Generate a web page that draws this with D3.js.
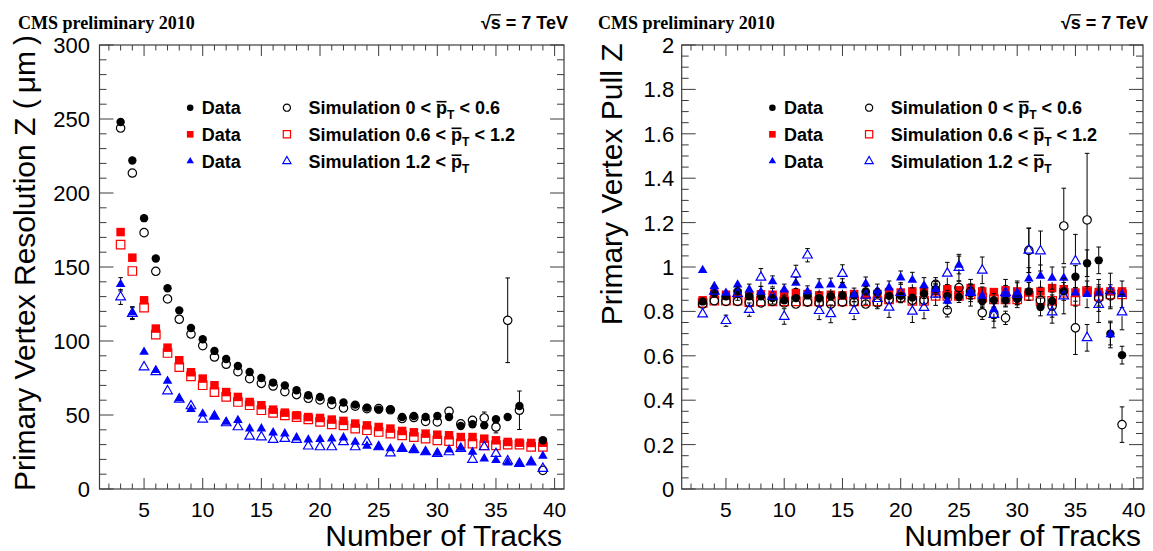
<!DOCTYPE html>
<html><head><meta charset="utf-8">
<script src="https://cdn.jsdelivr.net/npm/d3@7"></script>
<style>
body{margin:0;background:#fff}
svg{display:block}
text{font-family:"Liberation Sans",Arial,Helvetica,sans-serif;fill:#000}
</style>
</head><body>
<svg id="c" width="1153" height="551"></svg>
<script>
// ---------------- DATA ----------------
const tracks = [3,4,5,6,7,8,9,10,11,12,13,14,15,16,17,18,19,20,21,22,23,24,25,26,27,28,29,30,31,32,33,34,35,36,37,38,39];
const xTickLabels = [5,10,15,20,25,30,35,40];
const resTickLabels = [0,50,100,150,200,250,300];
const pullTickLabels = [0,0.2,0.4,0.6,0.8,1,1.2,1.4,1.6,1.8,2];

// Left panel: resolution in um
const resDataLow  = [248,222,183,155.7,135.6,120.7,108.8,101.2,93.3,87.8,83.1,79.1,75.0,71.9,69.9,66.7,63.3,62.2,59.9,58.4,57.0,55.0,53.6,53.8,48.6,49.3,48.6,49.3,48.6,42.6,43.7,43.0,47.1,48.6,56.1,null,32.9];
const resSimLow   = [243.9,213.5,173.2,147.1,128.4,114.7,104.7,96.9,89.2,84.3,79.3,74.6,71.4,69.6,65.8,63.8,61.3,60.2,57.2,54.7,56.0,54.3,54.3,53.5,47.6,48.3,45.7,45.3,52.5,44.0,46.4,48.0,41.9,114.0,53.2,null,12.6];
const resDataMid  = [173.6,156.3,127.5,108.4,95.5,87.0,78.9,74.6,70.1,65.5,62.2,58.8,56.6,53.6,51.6,49.8,48.6,48.0,46.9,46.0,44.2,43.0,41.9,40.8,39.2,38.3,37.4,36.7,36.3,35.1,35.1,34.0,32.9,31.8,31.3,31.1,31.3];
const resSimMid   = [165.1,147.3,122.6,104.3,91.9,82.4,76.1,70.1,65.5,62.2,58.8,56.6,53.2,51.4,49.8,48.6,47.1,45.3,43.7,43.0,40.8,39.7,38.5,37.4,36.3,35.1,34.0,32.9,32.4,30.7,30.7,29.5,29.5,30.0,30.0,28.4,28.4];
const resDataHigh = [138.3,119.2,92.6,80.2,73.0,61.1,53.9,50.9,49.1,45.3,46.4,40.8,40.8,38.1,37.4,34.7,33.3,33.6,34.0,34.7,31.8,29.1,28.4,27.3,27.3,26.1,25.0,24.3,26.6,27.7,25.0,20.5,19.4,17.8,17.2,18.2,22.3];
const resSimHigh  = [129.7,118.5,82.4,79.1,66.2,60.6,56.1,47.1,49.1,44.6,41.9,35.6,35.1,33.4,34.0,33.4,28.9,28.4,28.4,31.8,28.4,31.8,28.4,24.3,27.3,26.6,25.0,23.9,25.0,27.3,19.9,28.4,23.9,18.9,17.2,18.2,13.8];
const resErrDataLow  = [1,1,1,0.8,0.6,0.5,0.5,0.5,0.5,0.5,0.5,0.5,0.5,0.5,0.5,0.6,0.6,0.7,0.7,0.8,0.9,1,1,1.1,1.2,1.3,1.4,1.5,1.6,2.5,2.2,2.2,2.4,2.6,3,0,2];
const resErrSimLow   = [1,1,1,0.8,0.6,0.5,0.5,0.5,0.5,0.5,0.5,0.5,0.5,0.5,0.5,0.6,0.6,0.7,0.7,0.8,0.9,1,1,1.1,1.2,1.3,1.4,1.5,3,2,3,4,4,28.6,13,0,3];
const resErrDataMid  = [1,1,0.8,0.6,0.5,0.5,0.5,0.5,0.5,0.5,0.5,0.5,0.5,0.5,0.5,0.5,0.5,0.5,0.5,0.6,0.6,0.6,0.7,0.7,0.7,0.8,0.8,0.9,0.9,1,1,1,1.1,1.1,1.2,1.2,1.3];
const resErrSimMid   = [1,1,0.8,0.6,0.5,0.5,0.5,0.5,0.5,0.5,0.5,0.5,0.5,0.5,0.5,0.5,0.5,0.5,0.5,0.6,0.6,0.6,0.7,0.7,0.7,0.8,0.8,0.9,0.9,1,1,1,1.1,1.1,1.2,1.2,1.3];
const resErrDataHigh = [4.5,4,2,1.5,1,1,0.8,0.8,0.8,0.8,0.8,0.8,0.8,0.8,0.8,0.8,0.8,0.8,0.9,0.9,0.9,1,1,1,1.1,1.1,1.2,1.2,1.3,1.3,1.4,1.4,1.5,1.5,1.6,1.6,1.7];
const resErrSimHigh  = [5,4,2.5,1.5,1,1,0.8,0.8,0.8,0.8,0.8,0.8,0.8,0.8,0.8,0.8,0.8,0.8,0.9,0.9,0.9,1,1,1,1.1,1.1,1.2,1.2,1.3,1.3,1.4,1.4,1.5,1.5,1.6,1.6,1.7];

// Right panel: pull
const pullDataLow  = [0.845,0.883,0.868,0.89,0.868,0.868,0.86,0.85,0.86,0.872,0.86,0.868,0.872,0.872,0.89,0.885,0.87,0.87,0.862,0.88,0.9,0.87,0.865,0.88,0.847,0.85,0.85,0.86,0.89,0.82,0.847,0.89,0.956,1.017,1.03,0.699,0.603];
const pullSimLow   = [0.833,0.848,0.845,0.845,0.84,0.838,0.845,0.838,0.833,0.842,0.838,0.833,0.842,0.842,0.833,0.838,0.854,0.86,0.85,0.85,0.922,0.805,0.907,0.89,0.794,0.786,0.771,0.86,1.075,0.85,0.824,1.185,0.726,1.212,0.86,0.87,0.29];
const pullDataMid  = [0.85,0.88,0.875,0.88,0.872,0.877,0.875,0.877,0.883,0.878,0.872,0.875,0.872,0.878,0.875,0.878,0.887,0.885,0.89,0.89,0.89,0.9,0.895,0.905,0.89,0.887,0.895,0.89,0.885,0.89,0.905,0.9,0.885,0.89,0.887,0.89,0.89];
const pullSimMid   = [0.838,0.848,0.848,0.848,0.842,0.845,0.845,0.845,0.845,0.845,0.845,0.845,0.845,0.845,0.845,0.845,0.854,0.862,0.847,0.847,0.87,0.87,0.87,0.877,0.862,0.854,0.854,0.854,0.87,0.847,0.847,0.884,0.847,0.892,0.87,0.877,0.877];
const pullDataHigh = [0.985,0.913,0.883,0.92,0.898,0.887,0.935,0.898,0.928,0.89,0.917,0.92,0.917,0.875,0.925,0.893,0.907,0.952,0.941,0.917,0.9,0.847,1.009,0.884,0.87,0.809,0.877,0.884,0.947,0.959,0.95,0.95,0.884,0.877,0.884,0.696,0.877];
const pullSimHigh  = [0.788,0.89,0.758,0.88,0.808,0.953,0.868,0.777,0.968,1.053,0.803,0.789,0.97,0.803,0.872,0.857,0.818,0.884,0.80,0.817,0.877,0.971,0.997,0.884,0.985,0.786,0.884,0.877,1.075,1.072,0.797,0.869,1.027,0.681,0.83,0.892,0.797];
const pullErrDataLow  = [0.01,0.01,0.01,0.01,0.01,0.012,0.012,0.012,0.015,0.015,0.015,0.015,0.015,0.018,0.018,0.018,0.02,0.02,0.02,0.022,0.022,0.025,0.025,0.025,0.03,0.03,0.03,0.03,0.04,0.04,0.04,0.04,0.05,0.06,0.06,0.05,0.04];
const pullErrSimLow   = [0.01,0.01,0.01,0.01,0.01,0.01,0.012,0.012,0.012,0.015,0.015,0.015,0.015,0.015,0.015,0.018,0.02,0.02,0.02,0.02,0.03,0.03,0.03,0.03,0.03,0.03,0.03,0.03,0.1,0.04,0.05,0.17,0.12,0.3,0.06,0.05,0.08];
const pullErrDataMid  = [0.01,0.008,0.008,0.008,0.008,0.008,0.008,0.008,0.008,0.008,0.008,0.008,0.01,0.01,0.01,0.01,0.01,0.01,0.01,0.012,0.012,0.012,0.012,0.012,0.014,0.014,0.014,0.015,0.015,0.015,0.016,0.016,0.017,0.017,0.018,0.018,0.02];
const pullErrSimMid   = [0.01,0.008,0.008,0.008,0.008,0.008,0.008,0.008,0.008,0.008,0.008,0.008,0.01,0.01,0.01,0.01,0.01,0.01,0.01,0.012,0.012,0.012,0.012,0.012,0.014,0.014,0.014,0.015,0.015,0.015,0.016,0.016,0.017,0.017,0.018,0.018,0.02];
const pullErrDataHigh = [0.015,0.02,0.02,0.02,0.025,0.025,0.025,0.025,0.025,0.025,0.03,0.03,0.03,0.03,0.03,0.03,0.03,0.03,0.035,0.035,0.035,0.035,0.04,0.04,0.04,0.04,0.04,0.045,0.05,0.05,0.05,0.05,0.06,0.06,0.06,0.06,0.06];
const pullErrSimHigh  = [0.02,0.025,0.025,0.03,0.03,0.04,0.035,0.035,0.04,0.03,0.04,0.04,0.04,0.04,0.04,0.045,0.045,0.045,0.05,0.05,0.05,0.05,0.06,0.06,0.06,0.06,0.06,0.06,0.1,0.09,0.05,0.08,0.12,0.06,0.08,0.08,0.08];

const legendData = ["Data","Data","Data"];
const legendSimPre = ["Simulation 0 < ","Simulation 0.6 < ","Simulation 1.2 < "];
const legendSimPost = [" < 0.6"," < 1.2",""];

// ---------------- STYLE / LAYOUT ----------------
const axisCol = "#3c3c3c";
const cRed = "#ff0000", cBlue = "#0000ff", cBlack = "#000000";
const svg = d3.select("#c");

const panels = [
  {x0:99.5, x1:564, y0:45, y1:489, ydom:[0,300], yTicks:resTickLabels, yMinor:d3.range(0,301,10), yFmt:d=>String(d), yLabOff:9.5,
   ytitle:"Primary Vertex Resolution Z (\u2009\u03bcm\u2009)", ytx:34.5, yty:35, hx0:18, hx1:568,
   series:[
     {v:resDataMid, e:resErrDataMid, shape:"square", fill:true, col:cRed},
     {v:resSimMid,  e:resErrSimMid,  shape:"square", fill:false, col:cRed},
     {v:resDataLow, e:resErrDataLow, shape:"circle", fill:true, col:cBlack},
     {v:resSimLow,  e:resErrSimLow,  shape:"circle", fill:false, col:cBlack},
     {v:resDataHigh,e:resErrDataHigh,shape:"triangle", fill:true, col:cBlue},
     {v:resSimHigh, e:resErrSimHigh, shape:"triangle", fill:false, col:cBlue}
   ]},
  {x0:681.7, x1:1143, y0:45, y1:489, ydom:[0,2], yTicks:pullTickLabels, yMinor:d3.range(0,41,1).map(i=>i*0.05), yFmt:d=>String(d), yLabOff:7.5,
   ytitle:"Primary Vertex Pull Z", ytx:622, yty:43.5, hx0:598, hx1:1148,
   series:[
     {v:pullDataMid, e:pullErrDataMid, shape:"square", fill:true, col:cRed},
     {v:pullSimMid,  e:pullErrSimMid,  shape:"square", fill:false, col:cRed},
     {v:pullDataLow, e:pullErrDataLow, shape:"circle", fill:true, col:cBlack},
     {v:pullSimLow,  e:pullErrSimLow,  shape:"circle", fill:false, col:cBlack},
     {v:pullDataHigh,e:pullErrDataHigh,shape:"triangle", fill:true, col:cBlue},
     {v:pullSimHigh, e:pullErrSimHigh, shape:"triangle", fill:false, col:cBlue}
   ]}
];

const symType = {circle:d3.symbolCircle, square:d3.symbolSquare, triangle:d3.symbolTriangle};
const symSize = {circle:Math.PI*4.2*4.2, square:8.5*8.5, triangle:9.6*9.6*Math.sqrt(3)/4};
const half = {circle:4.2, square:4.3, triangle:4.2};

function marker(g, shape, filled, col, cx, cy, scale){
  const s = (scale||1);
  g.append("path")
    .attr("d", d3.symbol(symType[shape], symSize[shape]*s*s)())
    .attr("transform", `translate(${cx},${cy})`)
    .attr("fill", filled ? col : "none")
    .attr("stroke", filled ? "none" : col)
    .attr("stroke-width", filled ? 0 : 1.2);
}

panels.forEach(p=>{
  const g = svg.append("g");
  const x = d3.scaleLinear().domain([1.2,40.8]).range([p.x0,p.x1]);
  const y = d3.scaleLinear().domain(p.ydom).range([p.y1,p.y0]);

  // frame
  g.append("rect").attr("x",p.x0).attr("y",p.y0).attr("width",p.x1-p.x0).attr("height",p.y1-p.y0)
    .attr("fill","none").attr("stroke",axisCol).attr("stroke-width",1.2);

  // x ticks (inside, bottom and top)
  d3.range(2,41).forEach(v=>{
    const major = v%5===0, L = major?11:5.5, xx = x(v);
    g.append("line").attr("x1",xx).attr("x2",xx).attr("y1",p.y1).attr("y2",p.y1-L).attr("stroke",axisCol);
    g.append("line").attr("x1",xx).attr("x2",xx).attr("y1",p.y0).attr("y2",p.y0+L).attr("stroke",axisCol);
  });
  // y ticks (inside, left and right)
  const majorSet = new Set(p.yTicks.map(d=>+d.toFixed(3)));
  p.yMinor.forEach(v=>{
    const major = majorSet.has(+v.toFixed(3)), L = major?14:7, yy = y(v);
    g.append("line").attr("x1",p.x0).attr("x2",p.x0+L).attr("y1",yy).attr("y2",yy).attr("stroke",axisCol);
    g.append("line").attr("x1",p.x1).attr("x2",p.x1-L).attr("y1",yy).attr("y2",yy).attr("stroke",axisCol);
  });

  // tick labels
  g.selectAll(null).data(xTickLabels).enter().append("text")
    .attr("x",d=>x(d)).attr("y",517).attr("text-anchor","middle").attr("font-size",21).text(d=>d);
  g.selectAll(null).data(p.yTicks).enter().append("text")
    .attr("x",p.x0-p.yLabOff).attr("y",d=>y(d)).attr("dy","0.36em").attr("text-anchor","end").attr("font-size",22).text(p.yFmt);

  // axis titles
  g.append("text").attr("x",p.x1-2).attr("y",546).attr("text-anchor","end").attr("font-size",30).text("Number of Tracks");
  g.append("text").attr("transform",`translate(${p.ytx},${p.yty}) rotate(-90)`).attr("text-anchor","end").attr("font-size",30).text(p.ytitle);

  // header texts
  g.append("text").attr("x",p.hx0).attr("y",29).attr("font-size",18).attr("font-weight","bold")
    .style("font-family","'Liberation Serif','Times New Roman',serif").text("CMS preliminary 2010");
  const sq = g.append("text").attr("x",p.hx1).attr("y",29).attr("font-size",18).attr("font-weight","bold")
    .attr("text-anchor","end").text("\u221as = 7 TeV");
  {
    const n = sq.node();
    const tot = n.getComputedTextLength();
    const start = p.hx1 - tot;
    const a = start + n.getSubStringLength(0,1) - 0.5;
    const b = start + n.getSubStringLength(0,2);
    g.append("line").attr("x1",a).attr("x2",b).attr("y1",29-14.2).attr("y2",29-14.2).attr("stroke","#000").attr("stroke-width",1.3);
  }

  // data: error bars then markers, series in draw order
  p.series.forEach(s=>{
    const h = half[s.shape];
    s.v.forEach((v,i)=>{
      if(v===null) return;
      const cx = x(tracks[i]), cy = y(v), e = s.e[i];
      const yt = y(v+e), yb = y(v-e);
      if(yt < cy-h-0.5){
        g.append("line").attr("x1",cx).attr("x2",cx).attr("y1",yt).attr("y2",cy-h).attr("stroke","#000");
        g.append("line").attr("x1",cx-2.3).attr("x2",cx+2.3).attr("y1",yt).attr("y2",yt).attr("stroke","#000");
      }
      if(yb > cy+h+0.5){
        g.append("line").attr("x1",cx).attr("x2",cx).attr("y1",cy+h).attr("y2",yb).attr("stroke","#000");
        g.append("line").attr("x1",cx-2.3).attr("x2",cx+2.3).attr("y1",yb).attr("y2",yb).attr("stroke","#000");
      }
    });
    s.v.forEach((v,i)=>{
      if(v===null) return;
      marker(g, s.shape, s.fill, s.col, x(tracks[i]), y(v));
    });
  });

  // legend
  const lx = p.x0 + 90.7, lt = p.x0 + 102.2, sx = p.x0 + 187.4, st = p.x0 + 209;
  const rowsC = [107.7,134.3,161.2];
  const legShapes = [["circle",cBlack],["square",cRed],["triangle",cBlue]];
  legShapes.forEach((ls,i)=>{
    marker(g, ls[0], true, ls[1], lx, rowsC[i], 0.78);
    marker(g, ls[0], false, ls[1], sx, rowsC[i], 0.85);
    const base = rowsC[i] + 6.5;
    g.append("text").attr("x",lt).attr("y",base).attr("font-size",18).attr("font-weight","bold").text(legendData[i]);
    const t = g.append("text").attr("x",st).attr("y",base).attr("font-size",18).attr("font-weight","bold");
    t.append("tspan").text(legendSimPre[i]);
    t.append("tspan").text("p");
    t.append("tspan").attr("font-size",12).attr("dy",5).text("T");
    if(legendSimPost[i]) t.append("tspan").attr("dy",-5).text(legendSimPost[i]);
    const n = t.node();
    const k = legendSimPre[i].length;
    const px = st + n.getSubStringLength(0,k);
    const pw = n.getSubStringLength(k,1);
    g.append("line").attr("x1",px+0.5).attr("x2",px+pw-0.5).attr("y1",base-12.5).attr("y2",base-12.5)
      .attr("stroke","#000").attr("stroke-width",1.6);
  });
});
</script>
</body></html>
